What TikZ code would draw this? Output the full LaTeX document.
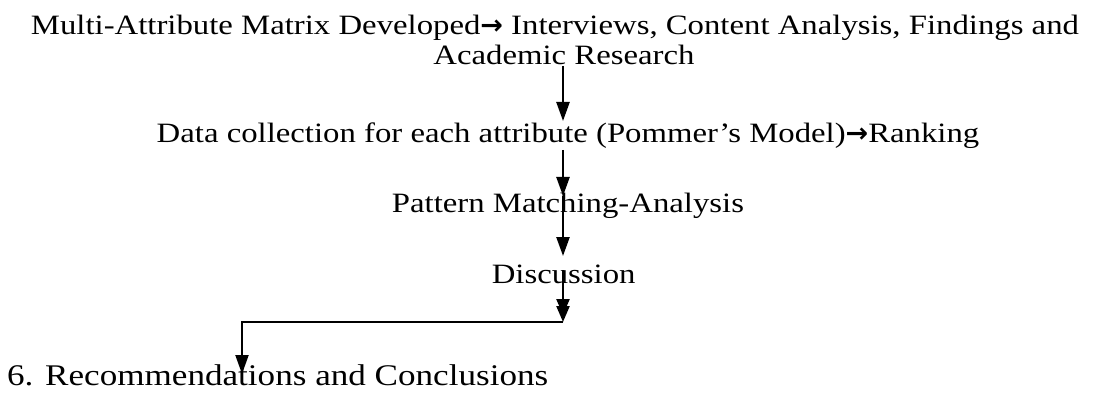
\documentclass[tikz,border=0pt]{standalone}
\usepackage{fontspec}
\setmainfont[FakeStretch=1.17]{Liberation Serif}
\newfontfamily\arrowfont{DejaVu Sans}
\usetikzlibrary{arrows.meta}
% text sizes for the flow steps
\newcommand\stepfont{\fontsize{28}{33}\selectfont}
\newcommand\lastfont{\fontsize{30}{36}\selectfont}
\newcommand\rarr{{\arrowfont\bfseries\fontsize{27}{30}\selectfont →}}
\newlength\cutA \newlength\cutB \newlength\cutC \newlength\cutD \newlength\cutE
\begin{document}
% widths of the text up to the point where the arrows cross it
\settowidth\cutA{\normalfont\stepfont Academic}%
\settowidth\cutB{\normalfont\stepfont Data collection for each attribu}%
\settowidth\cutC{\normalfont\stepfont Pattern Matc}%
\settowidth\cutD{\normalfont\stepfont Discu}%
\settowidth\cutE{\normalfont\lastfont 6. Recommenda}%
\begin{tikzpicture}[x=1pt,y=-1pt,
  txt/.style={inner sep=0pt, font=\stepfont},
  lasttxt/.style={inner sep=0pt, font=\lastfont},
  flow/.style={line width=2.4pt, -{Triangle[length=19pt,width=13pt]}},
  flowtwo/.style={line width=2.4pt,
    -{Triangle[length=16pt,width=13pt,sep=-9pt]Triangle[length=16pt,width=13pt]}},
  elbow/.style={line width=2pt, -{Triangle[length=19pt,width=13pt]}},
]
\useasboundingbox (0,0) rectangle (1109,393);

% steps
\node[txt, anchor=base] (t1) at (555,35)
  {Multi-Attribute Matrix Developed\rarr{} Interviews, Content Analysis, Findings and};
\node[txt, anchor=base west, xshift=-\cutA] (t2) at (566,65) {Academic Research};
\node[txt, anchor=base west, xshift=-\cutB] (t3) at (564,143)
  {Data collection for each attribute (Pommer’s Model)\rarr Ranking};
\node[txt, anchor=base west, xshift=-\cutC] (t4) at (560,212) {Pattern Matching-Analysis};
\node[txt, anchor=base west, xshift=-\cutD] (t5) at (568,283) {Discussion};
\node[lasttxt, anchor=base west, xshift=-\cutE] (t6) at (238,385)
  {6. Recommendations and Conclusions};

% arrow end points
\coordinate (a1s) at (563,66);
\coordinate (a1e) at (563,121);
\coordinate (a2s) at (563,150);
\coordinate (a2e) at (563,196);
\coordinate (a3e) at (563,256);
\coordinate (a4s) at (563,270);
\coordinate (a4e) at (563,322);
\coordinate (bend) at (242,322);
\coordinate (a5e) at (242,374);

% connectors
\draw[flow] (a1s) -- (a1e);
\draw[flow] (a2s) -- (a2e);
\draw[flow] (a2e) -- (a3e);
\draw[flowtwo] (a4s) -- (a4e);
\draw[elbow] (a4e) -- (bend) -- (a5e);
\end{tikzpicture}
\end{document}
